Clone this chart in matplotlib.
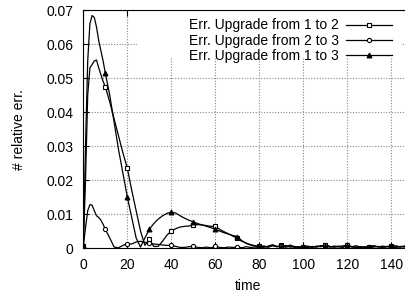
import matplotlib
matplotlib.use("Agg")
import matplotlib.pyplot as plt
from matplotlib.patches import Rectangle
from matplotlib.ticker import FixedLocator

plt.rcParams["font.family"] = ["Liberation Sans", "DejaVu Sans"]

# time grid: every unit up to 10, then every 2
time = [0, 1, 2, 3, 4, 5, 6, 7, 8, 9, 10,
        12, 14, 16, 18, 20, 22, 24, 26, 28, 30, 32, 34, 36, 38, 40,
        42, 44, 46, 48, 50, 52, 54, 56, 58, 60, 62, 64, 66, 68, 70,
        72, 74, 76, 78, 80, 82, 84, 86, 88, 90, 92, 94, 96, 98, 100,
        102, 104, 106, 108, 110, 112, 114, 116, 118, 120, 122, 124, 126, 128, 130,
        132, 134, 136, 138, 140, 142, 144, 146, 148]

err_1_to_2 = [0.0005, 0.020, 0.045, 0.053, 0.054, 0.055, 0.0553, 0.053, 0.051, 0.049, 0.0475,
              0.043, 0.038, 0.033, 0.028, 0.0235, 0.017, 0.011, 0.005, 0.0008, 0.0026,
              0.0005, 0.0005, 0.0020, 0.0038, 0.0050,
              0.0057, 0.0062, 0.0064, 0.0065, 0.0068, 0.0069, 0.0068, 0.0066, 0.0064, 0.0064,
              0.0055, 0.0048, 0.0042, 0.0035, 0.0029,
              0.0020, 0.0015, 0.0010, 0.0007, 0.0005, 0.0006, 0.0003, 0.0008, 0.0004, 0.0009,
              0.0003, 0.0005, 0.0002, 0.0004, 0.0003,
              0.0002, 0.0005, 0.0003, 0.0006, 0.0008, 0.0004, 0.0003, 0.0006, 0.0002, 0.0009,
              0.0004, 0.0003, 0.0002, 0.0004, 0.0003,
              0.0006, 0.0004, 0.0002, 0.0005, 0.0006, 0.0003, 0.0004, 0.0006, 0.0004]

err_2_to_3 = [0.0005, 0.006, 0.011, 0.0128, 0.0126, 0.011, 0.0095, 0.009, 0.0082, 0.007, 0.0055,
              0.003, 0.0003, 0.0001, 0.0008, 0.0013, 0.0012, 0.0018, 0.0020, 0.0017, 0.0014,
              0.0012, 0.0011, 0.0009, 0.0008, 0.0008,
              0.0005, 0.0002, 0.0002, 0.0004, 0.0005, 0.0002, 0.0001, 0.0003, 0.0001, 0.0005,
              0.0002, 0.0001, 0.0003, 0.0002, 0.0003,
              0.0001, 0.0004, 0.0002, 0.0003, 0.0002, 0.0005, 0.0003, 0.0007, 0.0004, 0.0006,
              0.0003, 0.0009, 0.0004, 0.0002, 0.0003,
              0.0004, 0.0002, 0.0006, 0.0004, 0.0010, 0.0005, 0.0003, 0.0004, 0.0002, 0.0010,
              0.0003, 0.0002, 0.0004, 0.0002, 0.0001,
              0.0003, 0.0005, 0.0002, 0.0004, 0.0003, 0.0002, 0.0005, 0.0003, 0.0002]

err_1_to_3 = [0.001, 0.030, 0.055, 0.066, 0.0684, 0.0678, 0.065, 0.061, 0.058, 0.055, 0.0515,
              0.045, 0.037, 0.029, 0.022, 0.015, 0.009, 0.003, 0.0003, 0.003, 0.0055,
              0.0072, 0.0085, 0.0095, 0.0102, 0.0106,
              0.0103, 0.0095, 0.0088, 0.0082, 0.0077, 0.0072, 0.0068, 0.0064, 0.0060, 0.0055,
              0.0050, 0.0045, 0.0041, 0.0037, 0.0034,
              0.0022, 0.0014, 0.0009, 0.0006, 0.0004, 0.0002, 0.0006, 0.0010, 0.0005, 0.0004,
              0.0008, 0.0003, 0.0005, 0.0002, 0.0003,
              0.0006, 0.0003, 0.0004, 0.0007, 0.0005, 0.0003, 0.0006, 0.0004, 0.0007, 0.0006,
              0.0004, 0.0007, 0.0003, 0.0002, 0.0004,
              0.0007, 0.0003, 0.0006, 0.0004, 0.0005, 0.0007, 0.0003, 0.0005, 0.0008]

labels = ["Err. Upgrade from 1 to 2", "Err. Upgrade from 2 to 3", "Err. Upgrade from 1 to 3"]
x_ticks = [0, 20, 40, 60, 80, 100, 120, 140]
y_ticks = [0, 0.01, 0.02, 0.03, 0.04, 0.05, 0.06, 0.07]
y_tick_labels = ["0", "0.01", "0.02", "0.03", "0.04", "0.05", "0.06", "0.07"]

marks = [i for i, t in enumerate(time) if t % 10 == 0]
FS = 10

fig = plt.figure(figsize=(4.06, 2.95), dpi=100)
ax = fig.add_axes([0.2052, 0.159, 0.813, 0.807])

styles = [
    dict(marker="s", mfc="white", ms=3.2),
    dict(marker="o", mfc="white", ms=3.0),
    dict(marker="^", mfc="black", ms=3.5),
]
for series, label, st in zip([err_1_to_2, err_2_to_3, err_1_to_3], labels, styles):
    ax.plot(time, series, color="black", lw=0.9, mec="black", mew=0.8,
            markevery=marks, label=label, **st)

ax.set_xlim(0, 150)
ax.set_ylim(0, 0.07)
ax.xaxis.set_major_locator(FixedLocator(x_ticks))
ax.set_yticks(y_ticks)
ax.set_yticklabels(y_tick_labels)
ax.tick_params(direction="in", top=True, right=False, labelsize=FS, length=4, pad=7)
ax.spines["right"].set_visible(False)
ax.grid(True, color="#888888", linestyle=(0, (1, 1.5)), lw=0.8)
ax.set_axisbelow(True)

# key box (gnuplot-like, wider than the text) blanks the grid behind it
ax.add_patch(Rectangle((0.163, 0.8025), 0.80, 0.2, transform=ax.transAxes,
                       facecolor="white", edgecolor="none", zorder=1))

ax.set_xlabel("time", fontsize=FS, labelpad=5)
ax.set_ylabel("# relative err.", fontsize=FS, labelpad=15)

leg = ax.legend(loc="upper right", bbox_to_anchor=(0.96, 1.0), markerfirst=False,
                frameon=False, fontsize=FS, handlelength=3.3, handletextpad=0.5,
                labelspacing=0.1, borderpad=0.3, borderaxespad=0.3)

fig.savefig("out.png", dpi=100)
